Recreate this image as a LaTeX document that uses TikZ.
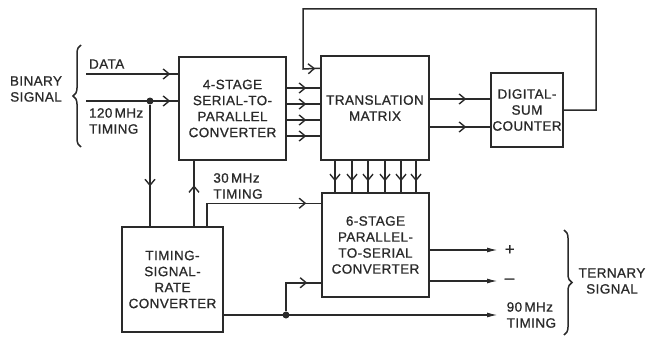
\documentclass[tikz,border=0pt]{standalone}
\usepackage{fontspec}
\setmainfont{Liberation Sans}[LetterSpace=3, FakeBold=0.9]
\usetikzlibrary{arrows.meta,decorations.markings,decorations.pathreplacing}
\definecolor{ink}{HTML}{2A2A2A}

\begin{document}
\begin{tikzpicture}[x=1pt, y=-1pt, line width=1.5pt, color=ink,
    font=\fontsize{13.5}{16}\selectfont,
    blk/.style 2 args={draw, minimum width=#1, minimum height=#2, align=center, inner sep=1pt},
    barb/.style={postaction={decorate}, decoration={markings,
        mark=at position #1 with {\arrow{Straight Barb[length=6pt,width=10pt,line width=1.4pt]}}}},
    sig/.style={-{Latex[length=11pt,width=5pt]}},
    dot/.style={circle, fill=ink, inner sep=0pt, minimum size=7pt},
    lbl/.style={anchor=west, inner xsep=8pt, inner ysep=0pt, align=left}]
    \useasboundingbox (0,0) rectangle (648,337);

    % Blocks
    \node[blk={107}{103}] (sp) at (232.5,108.5) {4-STAGE\\SERIAL-TO-\\PARALLEL\\CONVERTER};
    \node[blk={108}{104}] (tm) at (375,108) {TRANSLATION\\MATRIX};
    \node[blk={72}{74}] (dsc) at (527,110) {DIGITAL-\\SUM\\COUNTER};
    \node[blk={107}{104}] (ps) at (375.5,245) {6-STAGE\\PARALLEL-\\TO-SERIAL\\CONVERTER};
    \node[blk={101}{105}] (tc) at (172.5,279.5) {TIMING-\\SIGNAL-\\RATE\\CONVERTER};

    % Binary signal in
    \node[align=center] (bin) at (36,89) {BINARY\\SIGNAL};
    \draw[decorate, decoration={brace, amplitude=8pt}] (81,147) -- (81,45);
    \coordinate (din) at (86,74);
    \coordinate (cin) at (86,101);
    \node[anchor=west] (dlbl) at (85,64) {DATA};
    \node[anchor=west, align=left] (clbl) at (85,121) {120\,MHz\\TIMING};
    \draw[barb=-8pt] (din) -- (din -| sp.west);
    \draw[barb=-8pt] (cin) -- (cin -| sp.west);
    \node[dot] (cdot) at (150,101) {};
    \draw[barb=0.67] (cdot) -- (cdot |- tc.north);

    % Timing-rate converter outputs
    \coordinate (tup) at (194,227);
    \draw[barb=0.63] (tup) -- (tup |- sp.south);
    \coordinate (t30) at (207,227);
    \path (ps.north west) ++(0,11) coordinate (p30);
    \node[align=left] (c30) at (238,186) {30\,MHz\\TIMING};
    \draw[barb=-15pt] (t30) |- (p30);

    % Parallel lines
    \foreach \y in {88,104,120,136} {
        \draw[barb=-14pt] (sp.east |- 0,\y) -- (tm.west |- 0,\y);
    }
    \foreach \y in {99,127} {
        \draw[barb=-24pt] (tm.east |- 0,\y) -- (dsc.west |- 0,\y);
    }
    \foreach \x in {335,352,368,385,401,416} {
        \draw[barb=-11pt] (\x,0 |- tm.south) -- (\x,0 |- ps.north);
    }

    % Feedback from counter
    \path (tm.north west) ++(0,13) coordinate (fb);
    \draw[barb=-5pt] (dsc.east) -| (596,9) -| (303,69) -- (fb);

    % Ternary signal out
    \node[lbl, font=\fontsize{17}{17}\selectfont, inner xsep=6pt] (pl) at (498,250) {+};
    \node[lbl, font=\fontsize{17}{17}\selectfont, inner xsep=6pt] (mi) at (498,281) {--};
    \node[lbl] (t90) at (498,315) {90\,MHz\\TIMING};
    \draw[sig] (ps.east |- pl) -- (pl.west);
    \draw[sig] (ps.east |- mi) -- (mi.west);
    \draw[sig] (tc.east |- t90) -- (t90.west);
    \node[dot] (mdot) at (286,315) {};
    \path (ps.south west) ++(0,-15) coordinate (p90);
    \draw[barb=-14pt] (mdot) |- (p90);
    \draw[decorate, decoration={brace, amplitude=8pt}] (564,230) -- (564,335);
    \node[align=center] (ter) at (612,281) {TERNARY\\SIGNAL};
\end{tikzpicture}
\end{document}
